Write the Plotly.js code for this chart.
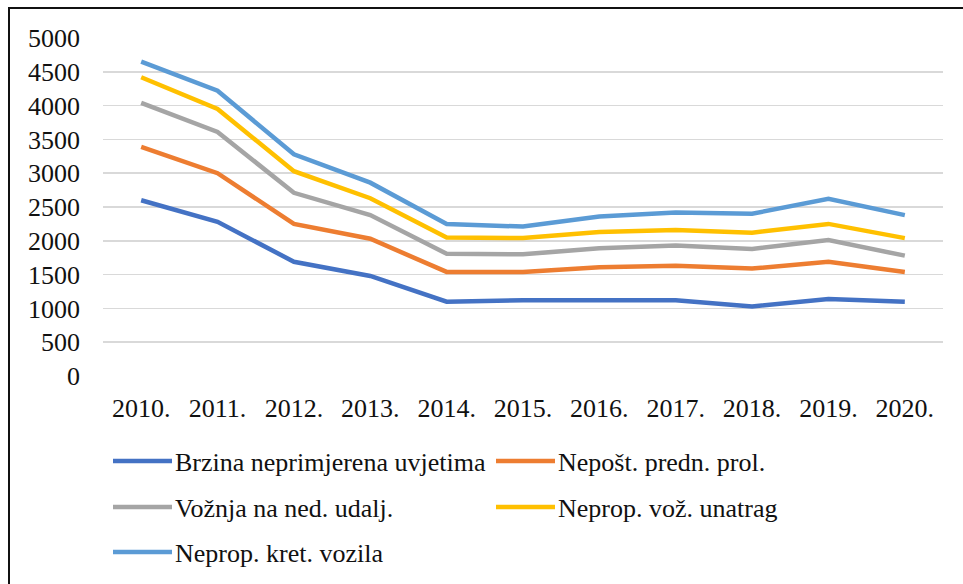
<!DOCTYPE html>
<html>
<head>
<meta charset="utf-8">
<script src="https://cdn.plot.ly/plotly-3.0.1.min.js"></script>
<style>
  html, body { margin: 0; padding: 0; background: #fff; }
</style>
</head>
<body>
<div id="chart" style="width:963px;height:584px"></div>
<script>
const years = ["2010.", "2011.", "2012.", "2013.", "2014.", "2015.", "2016.", "2017.", "2018.", "2019.", "2020."];

const brzina  = [2600, 2280, 1690, 1480, 1100, 1120, 1120, 1120, 1030, 1140, 1100];
const nepost  = [3390, 3000, 2250, 2030, 1540, 1540, 1610, 1630, 1590, 1690, 1540];
const voznja  = [4040, 3610, 2710, 2380, 1810, 1800, 1890, 1930, 1880, 2010, 1780];
const unatrag = [4420, 3950, 3030, 2630, 2050, 2040, 2130, 2160, 2120, 2250, 2040];
const kret    = [4650, 4220, 3280, 2860, 2250, 2210, 2360, 2420, 2400, 2620, 2380];

const seriesNames = ["Brzina neprimjerena uvjetima", "Nepošt. predn. prol.", "Vožnja na ned. udalj.", "Neprop. vož. unatrag", "Neprop. kret. vozila"];
const seriesValues = [brzina, nepost, voznja, unatrag, kret];
const seriesColors = ["#4472C4", "#ED7D31", "#A5A5A5", "#FFC000", "#5B9BD5"];

const FONT = "Times New Roman";
const FS = 26;

const traces = seriesValues.map((vals, i) => ({
  type: "scatter",
  mode: "lines",
  x: years,
  y: vals,
  name: seriesNames[i],
  line: { color: seriesColors[i], width: 4.5 },
  showlegend: false
}));

// plot area in pixels
const W = 963, H = 584;
const L = 103, R = 943, T = 38, B = 376;
const px2x = p => (p - L) / (R - L);
const py2y = p => (B - p) / (B - T);

// custom legend (long line samples as in the reference)
const legendSlots = [
  { x0: 113, x1: 172, tx: 173, y: 461 },
  { x0: 496, x1: 555, tx: 556, y: 461 },
  { x0: 113, x1: 172, tx: 173, y: 507 },
  { x0: 496, x1: 555, tx: 556, y: 507 },
  { x0: 113, x1: 172, tx: 173, y: 552 }
];
const shapes = [];
const annotations = [];
seriesNames.forEach((name, i) => {
  const s = legendSlots[i];
  shapes.push({
    type: "line", xref: "paper", yref: "paper",
    x0: px2x(s.x0), x1: px2x(s.x1), y0: py2y(s.y), y1: py2y(s.y),
    line: { color: seriesColors[i], width: 4.5 }
  });
  annotations.push({
    xref: "paper", yref: "paper", x: px2x(s.tx), y: py2y(s.y + 1),
    xanchor: "left", yanchor: "middle", showarrow: false,
    text: name, font: { family: FONT, size: FS, color: "#111" }
  });
});
// chart frame (top and left edges visible, the rest runs off the picture)
shapes.push({
  type: "rect", xref: "paper", yref: "paper",
  x0: px2x(9), x1: px2x(1000), y0: py2y(8), y1: py2y(700),
  line: { color: "#111", width: 2 }, fillcolor: "rgba(0,0,0,0)", layer: "above"
});

const layout = {
  width: W, height: H,
  margin: { l: L, r: W - R, t: T, b: H - B, pad: 0 },
  paper_bgcolor: "#fff",
  plot_bgcolor: "#fff",
  showlegend: false,
  xaxis: {
    type: "category",
    range: [-0.5, years.length - 0.5],
    showgrid: false,
    zeroline: false,
    showline: false,
    ticks: "",
    tickfont: { family: FONT, size: FS, color: "#111" },
    ticklabelstandoff: 14
  },
  yaxis: {
    range: [0, 5000],
    tick0: 0, dtick: 500,
    showgrid: true,
    gridcolor: "#D9D9D9",
    gridwidth: 1.5,
    zeroline: false,
    showline: false,
    ticks: "",
    tickfont: { family: FONT, size: FS, color: "#111" },
    ticklabelstandoff: 22
  },
  shapes: shapes,
  annotations: annotations
};

Plotly.newPlot("chart", traces, layout, { staticPlot: true });
</script>
</body>
</html>
